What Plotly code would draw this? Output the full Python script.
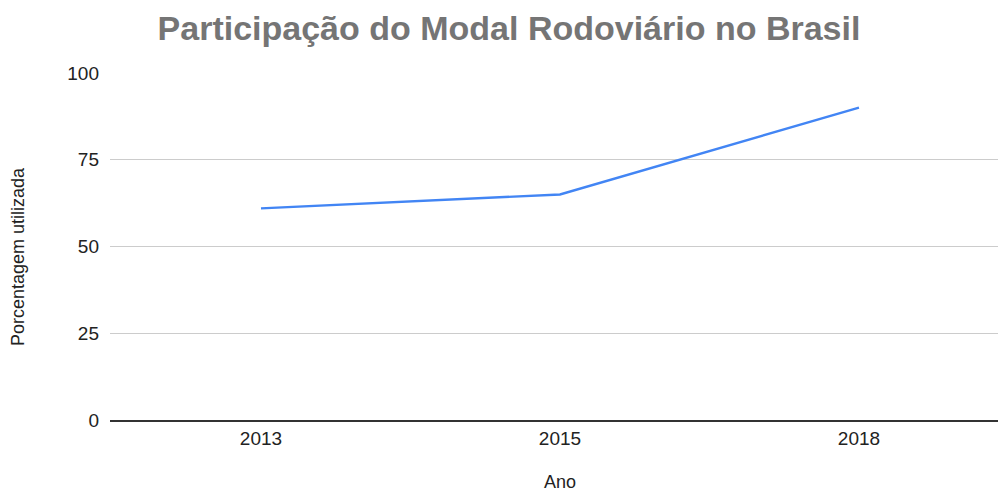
import plotly.graph_objects as go

anos = ["2013", "2015", "2018"]
porcentagem = [61, 65, 90]
y_ticks = [0, 25, 50, 75, 100]

FONT = "Liberation Sans, Arial, sans-serif"

fig = go.Figure()
fig.add_trace(go.Scatter(
    x=anos, y=porcentagem, mode="lines",
    line=dict(color="#4285F4", width=2.4),
    showlegend=False,
))

fig.update_layout(
    width=998, height=491,
    margin=dict(l=110, r=0, t=73, b=71),
    paper_bgcolor="white", plot_bgcolor="white",
    title=dict(
        text="<b>Participação do Modal Rodoviário no Brasil</b>",
        font=dict(family=FONT, size=34, color="#757575"),
        x=0.51, xanchor="center", y=0.942, yanchor="middle",
    ),
    font=dict(family=FONT, color="#222222"),
    annotations=[
        dict(text="Ano", xref="paper", yref="paper",
             x=0.5068, y=-0.180, xanchor="center", yanchor="middle",
             showarrow=False, font=dict(family=FONT, size=18, color="#222222")),
        dict(text="Porcentagem utilizada", xref="paper", yref="paper",
             x=-0.1036, y=0.4697, xanchor="center", yanchor="middle",
             textangle=-90, showarrow=False,
             font=dict(family=FONT, size=18, color="#222222")),
    ],
)

fig.update_xaxes(
    type="category",
    range=[-0.505, 2.465],
    showgrid=False,
    automargin=False,
    showline=True, linecolor="#333333", linewidth=1.5,
    ticks="", ticklabelstandoff=0,
    tickfont=dict(family=FONT, size=19, color="#222222"),
)

fig.update_yaxes(
    range=[0, 100],
    tickvals=y_ticks,
    showgrid=True, gridcolor="#cccccc", gridwidth=1,
    zeroline=False,
    showline=False,
    automargin=False,
    ticks="", ticklabelstandoff=10,
    tickfont=dict(family=FONT, size=19, color="#222222"),
)

fig.write_html("out.html", config={"displayModeBar": False},
               post_script="document.body.style.margin='0';")
